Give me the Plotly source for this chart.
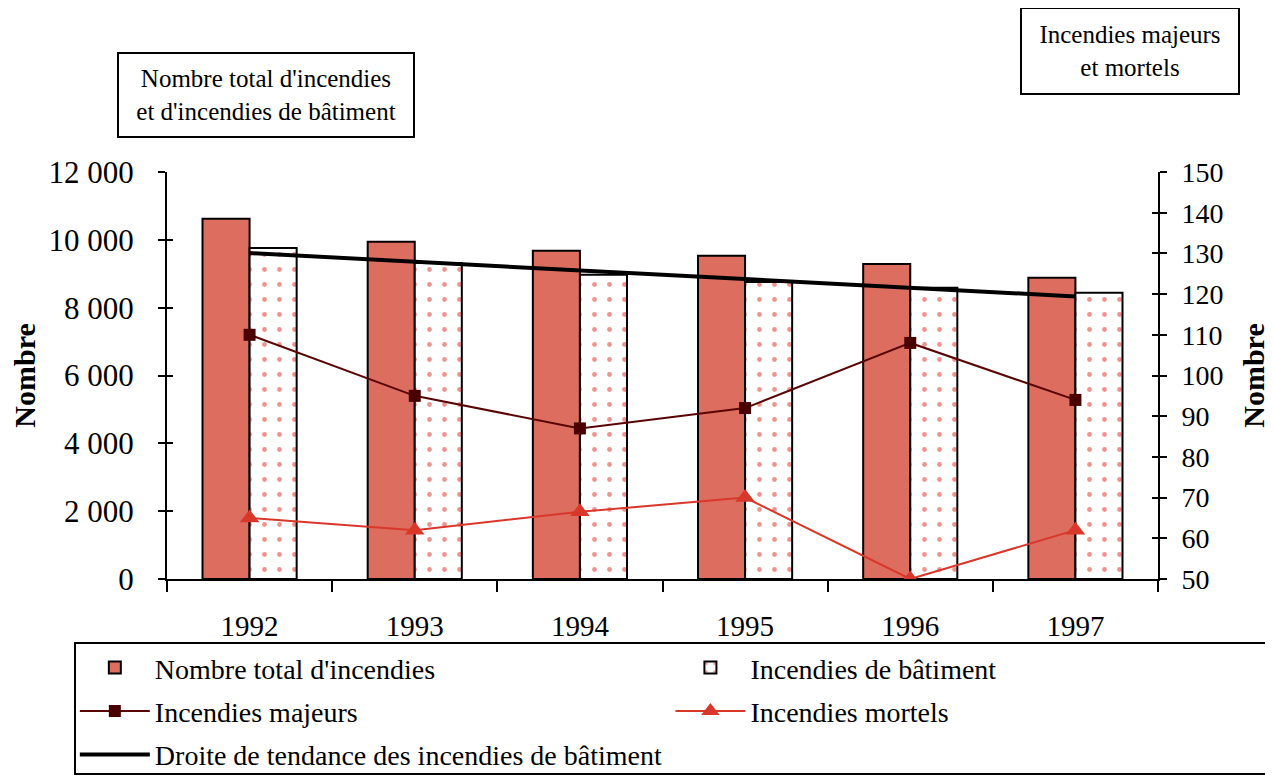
import plotly.graph_objects as go

years = ["1992", "1993", "1994", "1995", "1996", "1997"]
total_fires = [10620, 9940, 9680, 9530, 9290, 8880]
building_fires = [9760, 9320, 8970, 8760, 8590, 8440]
major_fires = [110, 95, 87, 92, 108, 94]
fatal_fires = [65, 62, 66.5, 70, 50, 62]
trend_building = [9610, 9355, 9100, 8845, 8590, 8330]

FONT = "Liberation Serif"

fig = go.Figure()
fig.add_trace(go.Bar(
    x=years, y=total_fires, name="Nombre total d'incendies",
    legend="legend", legendgroup="g1",
    marker=dict(color="#DD6D5F", line=dict(color="black", width=2)),
))
fig.add_trace(go.Bar(
    x=years, y=building_fires, name="Incendies de bâtiment",
    legend="legend2", legendgroup="g2",
    marker=dict(color="white", line=dict(color="black", width=2),
                pattern=dict(shape=".", fgcolor="#E0281E", bgcolor="white",
                             size=15, solidity=0.08)),
))
fig.add_trace(go.Scatter(
    x=years, y=major_fires, name="Incendies majeurs", yaxis="y2",
    legend="legend", legendgroup="g3",
    mode="lines+markers", line=dict(color="#5A0505", width=2),
    marker=dict(symbol="square", size=12, color="#4A0000"),
))
fig.add_trace(go.Scatter(
    x=years, y=fatal_fires, name="Incendies mortels", yaxis="y2",
    legend="legend2", legendgroup="g4",
    mode="lines+markers", line=dict(color="#D9372A", width=2),
    marker=dict(symbol="triangle-up", size=17, color="#D9372A"),
))
fig.add_trace(go.Scatter(
    x=years, y=trend_building, name="Droite de tendance des incendies de bâtiment",
    legend="legend", legendgroup="g5",
    mode="lines", line=dict(color="black", width=4),
))
# empty helper traces so the inner tick axes get drawn (ticks crossing the axis lines)
fig.add_trace(go.Scatter(x=years, y=[None] * len(years), yaxis="y3",
                         showlegend=False, hoverinfo="skip", mode="lines"))
fig.add_trace(go.Scatter(x=years, y=[None] * len(years), yaxis="y4",
                         showlegend=False, hoverinfo="skip", mode="lines"))

legend_common = dict(
    orientation="v", yanchor="top", y=-0.157, xanchor="left",
    borderwidth=0, bgcolor="rgba(0,0,0,0)",
    font=dict(family=FONT, size=28), traceorder="grouped",
    tracegroupgap=4, itemwidth=70,
)

fig.update_layout(
    width=1273, height=776,
    margin=dict(l=159, r=123, t=164, b=205, autoexpand=False),
    paper_bgcolor="white", plot_bgcolor="white",
    separators=", ",
    font=dict(family=FONT, color="black", size=22),
    barmode="group", bargap=0.43, bargroupgap=0,
    showlegend=True,
    legend=dict(x=-0.093, **legend_common),
    legend2=dict(x=0.508, **legend_common),
    xaxis=dict(
        type="category", showline=True, linecolor="black", linewidth=2,
        ticks="outside", ticklen=11, tickwidth=2, tickcolor="black",
        tickson="boundaries", showgrid=False, mirror=False,
        ticklabelstandoff=20,
        tickfont=dict(family=FONT, size=29),
    ),
    yaxis=dict(
        range=[0, 12000], dtick=2000, tickformat=",d",
        showline=True, linecolor="black", linewidth=2,
        ticks="outside", ticklen=7, tickwidth=2, tickcolor="black",
        showgrid=False, zeroline=False, ticklabelstandoff=18,
        tickfont=dict(family=FONT, size=31),
        title=dict(text="<b>Nombre</b>", font=dict(family=FONT, size=30), standoff=10),
    ),
    yaxis2=dict(
        range=[50, 150], dtick=10, overlaying="y", side="right",
        showline=True, linecolor="black", linewidth=2,
        ticks="outside", ticklen=7, tickwidth=2, tickcolor="black",
        showgrid=False, zeroline=False, ticklabelstandoff=9,
        tickfont=dict(family=FONT, size=28),
        title=dict(text="<b>Nombre</b>", font=dict(family=FONT, size=30), standoff=20),
    ),
    yaxis3=dict(
        range=[0, 12000], dtick=2000, overlaying="y", side="left", anchor="x",
        showticklabels=False, ticks="inside", ticklen=6, tickwidth=2, tickcolor="black",
        showgrid=False, zeroline=False, showline=False,
    ),
    yaxis4=dict(
        range=[50, 150], dtick=10, overlaying="y", side="right", anchor="x",
        showticklabels=False, ticks="inside", ticklen=6, tickwidth=2, tickcolor="black",
        showgrid=False, zeroline=False, showline=False,
    ),
    shapes=[
        dict(type="rect", xref="paper", yref="paper",
             x0=(75 - 167) / 991, x1=1.13, y0=(579 - 643) / 407, y1=(579 - 774) / 407,
             line=dict(color="black", width=2), fillcolor="rgba(0,0,0,0)", layer="above"),
    ],
    annotations=[
        dict(text="Nombre total d'incendies<br>et d'incendies de bâtiment",
             xref="paper", yref="paper", x=(117 - 167) / 991, y=(579 - 52) / 407,
             xanchor="left", yanchor="top", showarrow=False,
             font=dict(family=FONT, size=25), bordercolor="black", borderwidth=2,
             width=292, height=80, bgcolor="white", align="center"),
        dict(text="Incendies majeurs<br>et mortels",
             xref="paper", yref="paper", x=(1020 - 167) / 991, y=(579 - 7) / 407,
             xanchor="left", yanchor="top", showarrow=False,
             font=dict(family=FONT, size=25), bordercolor="black", borderwidth=2,
             width=214, height=82, bgcolor="white", align="center"),
    ],
)

fig.write_html("out.html")
